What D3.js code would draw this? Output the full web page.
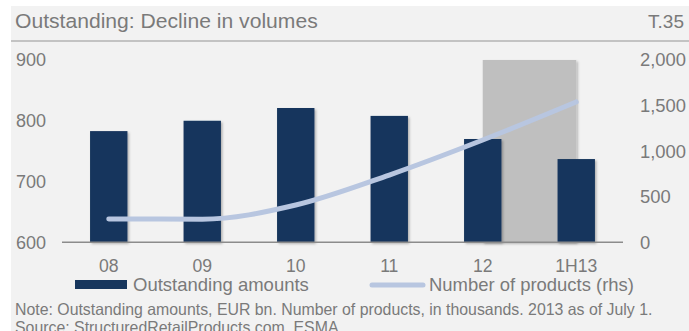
<!DOCTYPE html>
<html>
<head>
<meta charset="utf-8">
<script src="https://cdn.jsdelivr.net/npm/d3@7"></script>
<style>
  html, body { margin: 0; padding: 0; background: #ffffff; }
  svg { display: block; }
  text { font-family: "Liberation Sans", Arial, sans-serif; fill: #7a7a7a; }
</style>
</head>
<body>
<svg id="chart" width="689" height="331"></svg>
<script>
// Outstanding amounts (EUR bn, left axis) and number of products (thousands, right axis)
const categories = ["08", "09", "10", "11", "12", "1H13"];
const outstanding = [783, 800, 821, 808, 770, 737];
const products = [256, 254, 409, 738, 1122, 1540];
const leftTicks = [600, 700, 800, 900];
const rightTicks = [0, 500, 1000, 1500, 2000];
// Shaded period spans from the centre of "12" to the centre of "1H13"
const shadeFrom = "12";
const shadeTo = "1H13";

const title = "Outstanding: Decline in volumes";
const tag = "T.35";
const legendBars = "Outstanding amounts";
const legendLine = "Number of products (rhs)";
const note = "Note: Outstanding amounts, EUR bn. Number of products, in thousands. 2013 as of July 1.";
const source = "Source: StructuredRetailProducts.com, ESMA";

const svg = d3.select("#chart");
const W = 689, H = 331;

// panel background and header rule
svg.append("rect").attr("x", 11).attr("y", 6).attr("width", W - 11).attr("height", H - 6).attr("fill", "#f2f2f2");
svg.append("rect").attr("x", 11).attr("y", 40).attr("width", W - 11).attr("height", 2).attr("fill", "#c3c3c3");

const defs = svg.append("defs");
const f = defs.append("filter").attr("id", "shadow").attr("x", "-20%").attr("y", "-20%").attr("width", "150%").attr("height", "150%");
f.append("feDropShadow").attr("dx", 1.5).attr("dy", 1.5).attr("stdDeviation", 1.3)
  .attr("flood-color", "#000").attr("flood-opacity", 0.28);

// fit a text element to a target width by scaling its font size
function fitWidth(sel, target) {
  const fs = parseFloat(sel.style("font-size"));
  const w = sel.node().getComputedTextLength();
  sel.style("font-size", (fs * target / w) + "px");
}

const t1 = svg.append("text").attr("x", 15).attr("y", 28).style("font-size", "20px").text(title);
fitWidth(t1, 303);
svg.append("text").attr("x", 684).attr("y", 28).attr("text-anchor", "end").style("font-size", "19px").text(tag);

const plot = { left: 62, right: 623, top: 60, bottom: 242.3 };

const x = d3.scaleBand().domain(categories).range([plot.left, plot.right])
  .paddingInner(0.6).paddingOuter(0.3);
const y = d3.scaleLinear().domain([600, 900]).range([plot.bottom, plot.top]);
const y2 = d3.scaleLinear().domain([0, 2000]).range([plot.bottom, plot.top]);

const cx = d => x(d) + x.bandwidth() / 2;

// shaded half-year band
svg.append("rect")
  .attr("x", cx(shadeFrom))
  .attr("y", y(900))
  .attr("width", cx(shadeTo) - cx(shadeFrom))
  .attr("height", y(600) - y(900))
  .attr("fill", "#bfbfbf")
  .attr("filter", "url(#shadow)");

// bars
svg.append("g").selectAll("rect").data(categories).join("rect")
  .attr("x", d => x(d))
  .attr("y", (d, i) => y(outstanding[i]))
  .attr("width", x.bandwidth())
  .attr("height", (d, i) => y(600) - y(outstanding[i]))
  .attr("fill", "#17365d")
  .attr("filter", "url(#shadow)");

// baseline
svg.append("line").attr("x1", plot.left).attr("x2", plot.right)
  .attr("y1", plot.bottom).attr("y2", plot.bottom)
  .attr("stroke", "#8c8c8c").attr("stroke-width", 1.5);

// product count line
const line = d3.line()
  .x((d, i) => cx(categories[i]))
  .y(d => y2(d))
  .curve(d3.curveMonotoneX);
svg.append("path").datum(products)
  .attr("d", line)
  .attr("fill", "none")
  .attr("stroke", "#b8c6e0")
  .attr("stroke-width", 5)
  .attr("stroke-linecap", "round")
  .attr("stroke-linejoin", "round");

// left axis
const leftAxis = svg.append("g").attr("transform", "translate(46,0)")
  .call(d3.axisLeft(y).tickValues(leftTicks).tickSize(0).tickPadding(0));
leftAxis.select(".domain").remove();
leftAxis.selectAll("text").style("font-size", "18px").attr("fill", "#7a7a7a")
  .style("font-family", "'Liberation Sans', Arial, sans-serif");

// right axis
const rightAxis = svg.append("g").attr("transform", "translate(640,0)")
  .call(d3.axisRight(y2).tickValues(rightTicks).tickSize(0).tickPadding(0)
    .tickFormat(d3.format(",")));
rightAxis.select(".domain").remove();
rightAxis.selectAll("text").style("font-size", "18.4px").attr("fill", "#7a7a7a")
  .style("font-family", "'Liberation Sans', Arial, sans-serif");

// category axis
const bottomAxis = svg.append("g").attr("transform", `translate(0,${plot.bottom})`)
  .call(d3.axisBottom(x).tickSize(0).tickPadding(0));
bottomAxis.select(".domain").remove();
bottomAxis.selectAll("text").attr("dy", null).attr("y", 30).style("font-size", "17.6px").attr("fill", "#7a7a7a")
  .style("font-family", "'Liberation Sans', Arial, sans-serif");

// legend
svg.append("rect").attr("x", 75).attr("y", 280).attr("width", 52).attr("height", 9).attr("fill", "#17365d");
const l1 = svg.append("text").attr("x", 133).attr("y", 291).style("font-size", "18.5px").text(legendBars);
fitWidth(l1, 176);
svg.append("line").attr("x1", 372).attr("x2", 423).attr("y1", 285).attr("y2", 285)
  .attr("stroke", "#b8c6e0").attr("stroke-width", 5).attr("stroke-linecap", "round");
const l2 = svg.append("text").attr("x", 429).attr("y", 291).style("font-size", "18.5px").text(legendLine);
fitWidth(l2, 205);

// note and source
const n1 = svg.append("text").attr("x", 15).attr("y", 315).style("font-size", "16px").attr("fill", "#707070").text(note);
fitWidth(n1, 638);
svg.append("text").attr("x", 15).attr("y", 333).style("font-size", n1.style("font-size")).attr("fill", "#707070").text(source);
</script>
</body>
</html>
